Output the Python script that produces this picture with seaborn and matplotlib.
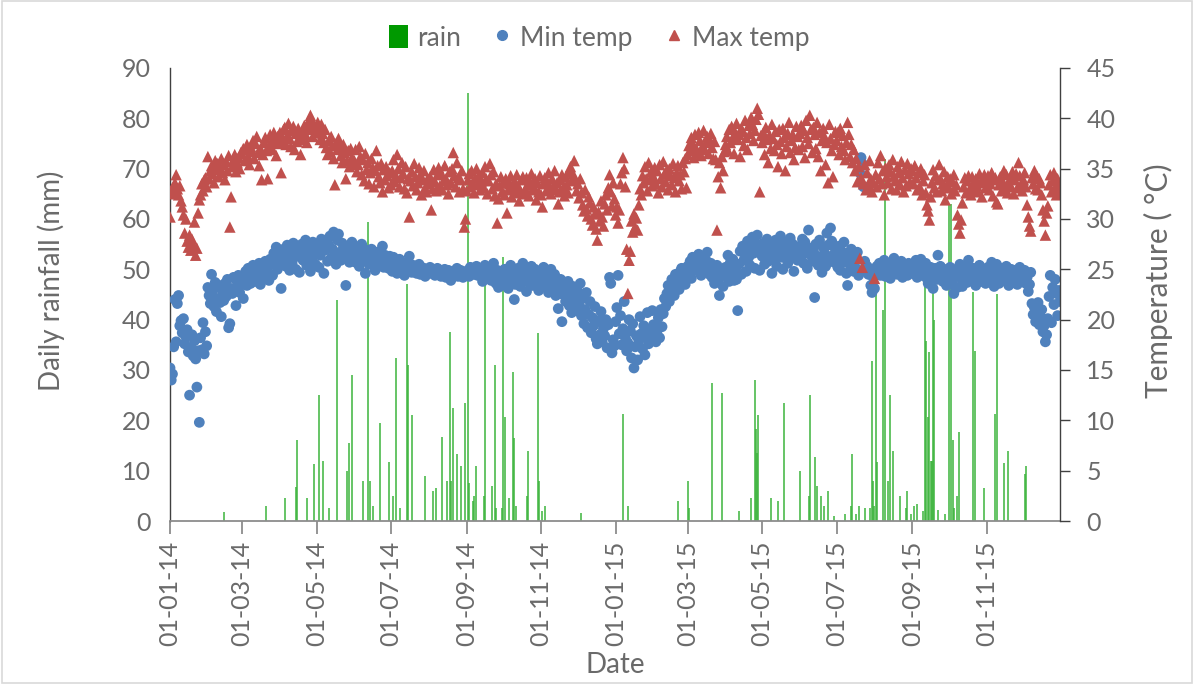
import numpy as np
import pandas as pd
import matplotlib
matplotlib.use("Agg")
import matplotlib.pyplot as plt
import matplotlib.dates as mdates
import seaborn as sns
from matplotlib.lines import Line2D
from matplotlib.patches import Patch, Rectangle

# ---------------- data ----------------
tmax_2014 = [
    30.2, 32.5, 33.1, 32.8, 33.6, 34.4, 33.0, 32.4, 33.3, 31.8,
    31.2, 30.4, 28.6, 30.0, 27.8, 27.2, 28.4, 26.9, 28.0, 27.4,
    29.7, 26.4, 27.1, 30.6, 31.9, 32.4, 33.5, 32.8, 33.9, 34.1, 33.2,
    36.2, 34.0, 34.8, 35.3, 34.5, 33.6, 35.8, 34.9, 35.5, 34.2,
    35.1, 36.0, 34.6, 35.4, 33.9, 35.7, 34.8, 36.3, 29.2, 32.2,
    35.2, 35.9, 36.4, 34.7, 35.6, 36.1, 35.0, 36.6,
    36.5, 37.0, 35.8, 36.9, 37.4, 36.2, 35.4, 37.2, 36.7, 37.8,
    36.0, 37.5, 38.2, 36.6, 35.3, 37.0, 33.9, 36.4, 37.6, 38.1,
    36.8, 34.0, 37.3, 38.4, 37.7, 36.9, 38.6, 37.9, 36.3, 38.2, 37.5,
    38.6, 34.6, 37.8, 38.9, 39.1, 37.4, 38.3, 39.5, 38.0, 37.2,
    38.8, 39.2, 36.9, 38.5, 37.7, 39.0, 38.1, 36.4, 37.9, 38.7,
    39.3, 38.4, 37.6, 39.6, 38.9, 40.3, 39.8, 38.2, 39.4, 38.6,
    39.2, 39.6, 38.8, 37.9, 39.4, 38.5, 37.6, 38.9, 37.1, 36.4,
    37.8, 36.7, 38.2, 37.3, 36.0, 33.4, 37.5, 36.9, 38.0, 37.2,
    36.3, 35.6, 37.4, 36.6, 34.0, 35.8, 36.8, 35.2, 37.0, 36.1, 35.5,
    35.8, 36.9, 34.7, 35.4, 37.2, 36.2, 34.4, 35.9, 33.8, 36.5,
    34.9, 35.6, 33.5, 34.6, 36.0, 35.1, 33.2, 34.8, 36.8, 35.3,
    34.2, 33.6, 35.5, 32.7, 34.9, 33.9, 35.2, 34.3, 33.1, 34.6,
    33.4, 34.8, 35.9, 33.7, 34.3, 36.4, 35.0, 33.2, 34.1, 35.6,
    34.5, 33.0, 35.2, 32.6, 34.0, 30.2, 33.8, 34.7, 33.3, 35.5,
    34.2, 32.9, 33.6, 35.1, 34.4, 32.4, 33.9, 34.8, 33.1, 32.7, 34.0,
    33.5, 34.2, 30.9, 33.0, 34.9, 33.7, 32.8, 34.4, 35.1, 33.3,
    34.6, 32.9, 33.8, 35.3, 34.0, 33.4, 32.5, 34.7, 33.6, 35.0,
    36.6, 34.3, 33.2, 35.6, 34.1, 32.7, 33.9, 34.8, 33.0, 29.2, 30.0,
    32.8, 33.9, 34.5, 33.2, 34.8, 33.6, 32.6, 34.1, 35.0, 33.4,
    34.3, 32.9, 33.7, 34.6, 33.1, 35.2, 34.0, 32.5, 33.8, 35.5,
    34.4, 33.0, 34.7, 32.3, 33.5, 29.6, 32.0, 33.3, 34.2, 32.7,
    33.6, 32.4, 34.0, 30.6, 32.9, 33.5, 34.3, 32.2, 33.1, 33.8,
    32.6, 34.4, 33.3, 31.8, 32.8, 33.9, 34.2, 32.5, 33.0, 34.1,
    33.4, 32.3, 33.7, 34.5, 32.9, 33.2, 34.0, 31.9, 33.6, 32.7, 34.3,
    32.4, 31.2, 33.5, 34.1, 32.8, 33.7, 34.6, 33.0, 32.5, 34.0,
    33.3, 34.8, 32.9, 33.6, 31.5, 32.7, 33.9, 34.4, 33.1, 32.3,
    34.2, 33.4, 32.6, 34.7, 35.2, 33.8, 34.5, 35.8, 33.9, 32.8,
    33.5, 32.1, 34.0, 32.6, 31.4, 30.8, 32.9, 31.0, 30.3, 32.2,
    31.6, 30.0, 29.4, 31.2, 30.5, 29.0, 27.9, 30.7, 29.8, 31.8,
    30.2, 29.3, 31.5, 32.4, 30.9, 33.1, 34.4, 32.7, 31.3, 33.6, 32.0,
]

tmax_2015 = [
    30.4, 31.2, 29.6, 30.9, 33.5, 34.6, 36.1, 35.0, 33.2, 27.0,
    22.6, 25.9, 26.8, 29.8, 28.7, 30.5, 29.2, 30.1, 28.9, 31.4,
    33.0, 32.4, 34.3, 33.6, 35.2, 34.0, 32.8, 35.6, 33.9, 34.7, 33.3,
    34.2, 35.1, 33.5, 34.8, 32.6, 35.4, 34.0, 33.2, 35.7, 34.5,
    33.7, 34.9, 32.9, 35.0, 34.3, 33.4, 35.5, 34.1, 32.7, 34.6,
    35.3, 33.8, 34.4, 33.0, 35.6, 34.7, 36.0, 33.1,
    36.4, 37.3, 36.8, 38.1, 37.5, 36.1, 38.4, 37.0, 36.6, 38.6,
    37.8, 36.3, 37.2, 38.8, 36.9, 37.6, 38.2, 36.5, 37.9, 38.5,
    37.1, 36.0, 37.7, 35.9, 28.9, 34.2, 35.6, 33.1, 36.2, 34.8, 36.7,
    37.4, 38.2, 36.8, 38.9, 37.6, 39.2, 38.0, 36.5, 38.6, 39.5,
    37.9, 38.4, 36.2, 39.0, 38.7, 37.3, 39.8, 38.1, 36.9, 39.3,
    38.5, 40.1, 39.4, 37.8, 38.8, 39.9, 41.0, 40.4, 32.7, 38.3,
    37.6, 38.6, 36.4, 39.1, 37.9, 35.6, 38.3, 37.0, 39.4, 38.0,
    36.8, 38.7, 37.4, 35.2, 38.9, 37.7, 36.5, 39.0, 38.1, 34.8,
    37.2, 38.5, 39.6, 36.6, 37.8, 38.4, 35.9, 37.1, 39.2, 38.2, 36.9,
    38.5, 39.3, 37.2, 38.8, 36.1, 39.8, 38.1, 37.5, 40.3, 38.9,
    36.6, 39.1, 38.4, 37.0, 39.6, 36.2, 38.6, 34.8, 37.8, 39.0,
    38.2, 35.4, 37.6, 33.6, 39.4, 38.0, 36.8, 34.2, 37.4, 38.7,
    37.8, 38.6, 36.4, 39.0, 37.2, 38.3, 36.8, 35.9, 37.6, 39.6,
    38.4, 36.2, 37.4, 35.6, 36.9, 34.8, 36.0, 33.7, 35.2, 26.1,
    34.1, 25.2, 33.5, 35.4, 32.9, 34.6, 33.2, 35.8, 34.0, 32.7, 33.6,
    24.1, 34.4, 33.2, 35.6, 34.0, 36.3, 33.5, 34.8, 32.4, 35.1,
    34.2, 33.6, 35.4, 34.7, 33.0, 35.9, 34.3, 33.8, 32.9, 35.2,
    34.6, 33.4, 35.7, 34.1, 32.7, 34.9, 33.3, 35.5, 34.5, 33.7, 35.0,
    34.8, 33.5, 35.3, 34.1, 32.9, 34.6, 33.2, 35.0, 32.4, 33.8,
    34.4, 32.6, 31.4, 30.8, 29.9, 32.2, 33.6, 34.9, 33.1, 34.3,
    32.7, 33.9, 35.4, 34.0, 32.8, 33.5, 34.7, 31.9, 33.3, 34.2,
    33.1, 34.0, 32.5, 33.7, 34.4, 32.8, 33.4, 30.4, 29.5, 28.6,
    29.9, 31.6, 33.2, 34.1, 32.6, 33.8, 34.3, 33.0, 32.4, 34.2,
    33.5, 32.9, 34.0, 33.3, 32.7, 34.5, 33.6, 32.2, 33.9, 34.4, 33.1,
    33.8, 34.3, 32.9, 33.5, 34.6, 32.3, 33.9, 34.1, 31.7, 31.5,
    33.4, 34.2, 32.8, 33.7, 34.8, 33.0, 34.4, 32.6, 33.6, 34.0,
    33.2, 34.7, 32.5, 33.9, 34.5, 33.1, 35.6, 34.3, 33.4, 32.8,
    33.9, 34.6, 33.2, 31.4, 30.2, 29.3, 28.8, 34.1, 33.5, 34.8,
    33.0, 34.3, 32.9, 34.0, 33.6, 32.4, 30.9, 29.8, 28.4, 30.6,
    31.3, 33.4, 34.4, 32.7, 33.8, 34.6, 33.1, 32.4, 34.0, 33.3, 32.6,
]

tmin_2014 = [
    15.2, 14.0, 14.6, 17.3, 22.0, 17.8, 21.6, 22.4, 19.4, 19.9,
    18.7, 20.1, 17.6, 18.3, 19.0, 16.8, 12.5, 17.2, 18.5, 16.4,
    17.9, 16.1, 13.3, 16.9, 9.8, 18.2, 17.0, 19.7, 16.6, 18.8, 17.4,
    23.2, 22.4, 21.6, 24.5, 22.9, 21.3, 23.7, 20.8, 22.1, 23.4,
    21.7, 20.3, 22.8, 21.9, 23.6, 22.3, 24.0, 19.2, 19.6, 23.1,
    22.6, 24.2, 23.0, 21.4, 23.8, 24.4, 22.7, 23.5,
    24.3, 22.1, 23.9, 24.8, 23.4, 25.1, 24.0, 23.6, 24.7, 25.4,
    24.5, 23.8, 25.0, 24.2, 25.6, 23.5, 24.9, 25.3, 24.1, 25.8,
    24.6, 25.2, 23.9, 26.0, 25.5, 24.4, 26.6, 25.7, 27.2, 25.0, 26.3,
    26.4, 23.1, 25.8, 27.0, 26.1, 25.3, 27.4, 26.6, 24.9, 26.9,
    25.6, 27.6, 26.2, 25.0, 27.1, 26.8, 24.7, 26.3, 27.5, 25.9,
    26.7, 27.9, 25.4, 26.5, 27.3, 24.8, 26.0, 27.7, 26.4, 25.5,
    26.8, 27.5, 25.2, 26.4, 28.0, 27.2, 24.6, 26.9, 27.8, 25.8,
    27.4, 28.3, 26.1, 27.0, 28.7, 26.5, 25.5, 27.9, 28.5, 26.7,
    25.9, 27.6, 26.3, 27.1, 23.4, 26.6, 27.3, 25.7, 26.9, 27.7, 26.2,
    26.4, 25.7, 27.2, 26.1, 25.3, 26.8, 27.5, 25.9, 26.3, 24.6,
    26.0, 26.9, 25.5, 26.6, 27.0, 25.8, 26.2, 24.9, 26.7, 25.4,
    26.5, 25.6, 26.1, 27.3, 25.2, 26.4, 25.7, 26.0, 25.1, 26.3,
    25.4, 24.8, 26.2, 25.1, 25.7, 24.6, 25.3, 26.0, 24.9, 25.5,
    25.0, 24.4, 25.6, 25.2, 24.8, 26.3, 25.1, 24.7, 25.4, 24.9,
    25.3, 24.6, 25.0, 25.5, 24.5, 25.2, 24.8, 25.1, 24.3, 25.0, 24.7,
    24.9, 25.2, 24.6, 24.8, 25.0, 24.4, 24.7, 25.1, 24.5, 24.9,
    24.3, 24.8, 24.6, 25.0, 24.2, 24.7, 24.9, 24.5, 23.9, 24.6,
    24.8, 24.4, 24.7, 25.1, 24.3, 24.6, 24.9, 24.5, 24.2, 24.7, 24.4,
    24.6, 24.9, 24.3, 25.2, 24.7, 25.0, 24.5, 24.8, 25.3, 24.4,
    24.9, 25.1, 24.6, 23.8, 24.7, 25.4, 24.2, 24.8, 25.0, 24.5,
    23.9, 24.6, 25.6, 24.3, 23.6, 24.9, 23.2, 24.1, 23.4, 24.0,
    24.5, 25.0, 23.6, 24.2, 23.1, 24.8, 25.4, 23.8, 24.6, 22.0,
    23.5, 24.4, 25.1, 24.0, 23.3, 24.7, 25.6, 23.9, 24.3, 22.8,
    24.9, 23.7, 24.5, 25.3, 23.4, 24.1, 25.0, 23.6, 24.4, 22.9, 24.2,
    24.6, 23.8, 25.2, 24.1, 23.4, 24.8, 22.7, 23.9, 25.0, 24.3,
    23.2, 24.5, 22.4, 23.6, 21.1, 22.9, 24.0, 19.8, 22.5, 23.7,
    21.8, 22.9, 23.8, 21.4, 22.6, 20.7, 23.3, 21.9, 22.3, 20.9,
    22.8, 21.5, 23.6, 20.4, 22.1, 19.6, 21.0, 22.7, 19.2, 20.5,
    21.8, 18.7, 20.2, 19.4, 21.3, 18.1, 17.6, 19.9, 18.5, 20.8,
    17.8, 19.1, 18.4, 20.0, 17.2, 19.5, 24.2, 23.6, 16.7, 18.0, 17.4,
]

tmin_2015 = [
    19.8, 21.2, 24.4, 18.6, 20.4, 17.5, 19.1, 21.8, 18.2, 16.9,
    17.7, 20.0, 18.9, 16.2, 19.6, 15.2, 17.3, 18.4, 16.0, 17.9,
    20.3, 18.6, 17.1, 19.4, 16.5, 18.2, 20.7, 17.6, 19.0, 18.3, 20.9,
    19.5, 18.4, 17.8, 18.9, 20.2, 18.2, 21.0, 19.3, 20.6, 22.1,
    21.3, 22.6, 23.4, 21.8, 22.9, 24.0, 23.1, 22.4, 24.5, 23.7,
    24.2, 23.0, 24.8, 25.1, 23.9, 24.6, 23.5, 24.9,
    25.3, 24.6, 25.8, 24.1, 26.2, 25.5, 24.9, 26.0, 25.4, 26.5,
    25.0, 24.4, 26.3, 25.7, 24.8, 25.9, 26.7, 25.2, 24.5, 25.6,
    24.2, 25.1, 23.6, 24.7, 25.4, 23.9, 22.4, 24.3, 25.0, 23.3, 24.6,
    25.2, 24.3, 26.4, 23.8, 25.7, 24.6, 26.0, 23.9, 25.1, 24.0,
    20.9, 25.5, 26.8, 24.5, 27.3, 25.9, 26.5, 24.8, 27.8, 26.2,
    25.4, 27.0, 28.2, 26.6, 25.1, 27.5, 28.4, 26.9, 24.9, 27.2,
    26.3, 27.6, 25.5, 26.9, 28.0, 25.8, 27.1, 26.4, 24.6, 27.4,
    26.0, 27.9, 25.3, 26.7, 27.3, 28.3, 26.2, 25.0, 27.7, 26.5,
    27.0, 25.6, 26.8, 28.1, 26.1, 27.5, 24.8, 26.6, 27.2, 25.9, 26.9,
    27.3, 26.2, 28.0, 25.6, 27.7, 26.8, 25.1, 28.9, 26.5, 27.1,
    25.8, 26.9, 22.2, 27.5, 26.3, 25.4, 27.9, 26.0, 24.7, 27.2,
    26.6, 25.3, 28.6, 27.4, 26.1, 29.1, 27.8, 26.4, 25.7, 27.0,
    26.4, 25.2, 27.3, 24.9, 26.8, 25.7, 27.7, 26.1, 24.6, 23.4,
    26.5, 25.4, 27.0, 25.9, 24.8, 26.3, 25.1, 26.7, 24.4, 34.6,
    36.1, 35.5, 33.2, 25.8, 24.9, 25.3, 24.5, 25.0, 23.4, 22.7, 24.2,
    23.1, 24.6, 25.3, 24.9, 25.6, 24.4, 25.1, 24.7, 25.9, 24.3,
    25.2, 24.8, 25.5, 24.1, 25.0, 24.6, 26.1, 24.9, 25.4, 24.5,
    25.1, 24.7, 25.8, 24.2, 25.3, 24.8, 25.0, 24.4, 25.6, 24.9, 25.2,
    24.8, 25.3, 24.5, 25.9, 24.2, 25.0, 24.7, 26.0, 24.4, 25.4,
    24.9, 25.6, 24.1, 23.6, 24.8, 25.2, 24.3, 23.1, 24.6, 25.1,
    24.0, 26.4, 24.7, 25.3, 24.4, 23.8, 25.0, 24.5, 23.4, 24.9,
    24.6, 25.2, 24.0, 23.5, 22.6, 24.3, 25.0, 23.2, 24.7, 25.5,
    24.1, 23.3, 24.8, 25.3, 24.4, 23.7, 25.9, 24.2, 23.9, 24.6,
    25.1, 24.0, 23.4, 24.8, 24.3, 25.4, 23.8, 24.5, 25.0, 24.2, 23.6,
    24.7, 25.2, 23.8, 24.4, 25.7, 24.0, 23.3, 24.9, 25.5, 24.2,
    23.6, 24.8, 25.1, 24.3, 23.9, 24.6, 25.3, 24.1, 23.4, 24.7,
    25.0, 24.5, 23.7, 24.9, 24.2, 23.5, 24.6, 25.2, 24.0, 23.8,
    24.4, 24.9, 23.6, 24.2, 22.8, 23.5, 24.7, 21.6, 20.5, 21.2,
    19.8, 20.9, 21.7, 19.5, 20.3, 21.0, 18.8, 19.4, 17.8, 18.5,
    20.1, 22.3, 24.4, 19.7, 23.2, 21.5, 24.0, 22.6, 20.4, 22.9, 21.8,
]

# rain events: day offset from 01-01-2014 and daily rainfall (mm)
rain_day = [44, 79, 94, 103, 104, 112, 118, 122, 125, 130,
            137, 145, 147, 149, 158, 162, 164, 166, 172, 179,
            183, 185, 188, 194, 195, 198, 209, 215, 218, 223,
            227, 229, 230, 232, 235, 238, 242, 244, 245, 248,
            249, 251, 257, 258, 264, 266, 267, 272, 273, 274,
            278, 281, 282, 283, 292, 293, 301, 302, 305, 307,
            337, 371, 375, 416, 424, 425, 444, 452, 466, 476,
            479, 480, 481, 482, 492, 498, 503, 516, 523, 524,
            528, 530, 533, 536, 539, 544, 553, 558, 559, 562,
            564, 569, 573, 575, 576, 577, 578, 579, 584, 586,
            588, 590, 592, 598, 603, 604, 607, 609, 612, 617,
            618, 619, 621, 622, 623, 624, 625, 626, 629, 635,
            638, 640, 641, 642, 645, 646, 658, 659, 667, 676,
            677, 683, 686, 700, 701]
rain_mm = [1.8, 3, 4.6, 6.7, 16, 4.5, 11.3, 25, 12, 2.5,
           44, 10, 15.5, 29, 8, 59.5, 8, 3, 19.5, 11.7,
           5, 32.4, 2.5, 47, 31, 21, 9, 6, 6.5, 16.7,
           8, 37.6, 8, 22.5, 13.3, 11, 23.5, 85, 7.5, 4,
           5, 11, 5, 48, 7, 31, 2.5, 2.5, 52.5, 20.7,
           4.5, 29.6, 16.5, 3, 5, 14, 37.3, 8, 2, 3,
           1.5, 21.3, 3, 4, 8, 2.5, 27.4, 25.4, 2, 4.5,
           28, 18.3, 13.5, 21, 4.5, 4, 23.5, 10, 5, 25,
           12.7, 7, 5, 3, 6, 1, 1.3, 3, 13.3, 1.3,
           3, 2.5, 2.5, 31.8, 8, 3, 45, 11.7, 42, 72,
           8, 25, 14, 5, 2.5, 6, 1.3, 3, 3.3, 2,
           47, 35.8, 20.7, 33.6, 12, 12, 45.5, 40, 2.2, 1.3,
           63, 63, 16, 2.5, 5, 17.7, 45.5, 33.8, 6.5, 21.3,
           45, 11.5, 14, 9.3, 11]

legend_labels = ["rain", "Min temp", "Max temp"]
left_label = "Daily rainfall (mm)"
right_label = "Temperature ( °C)"
x_label = "Date"

assert len(tmax_2014) == 365 and len(tmin_2014) == 365, (len(tmax_2014), len(tmin_2014))
assert len(tmax_2015) == 365 and len(tmin_2015) == 365, (len(tmax_2015), len(tmin_2015))
assert len(rain_day) == len(rain_mm)

# ---------------- frames ----------------
start = pd.Timestamp("2014-01-01")
dates = pd.date_range(start, periods=730, freq="D")
temps = pd.DataFrame({"date": dates,
                      "tmin": tmin_2014 + tmin_2015,
                      "tmax": tmax_2014 + tmax_2015})
rain = pd.DataFrame({"date": start + pd.to_timedelta(rain_day, unit="D"),
                     "mm": rain_mm})

# ---------------- style ----------------
sns.set_theme(style="white")
plt.rcParams["font.family"] = ["Lato", "DejaVu Sans"]
TXT = "#6a6a6a"

fig = plt.figure(figsize=(11.94, 6.84), dpi=100)
ax = fig.add_axes([0.1424, 0.2383, 0.7454, 0.6623])

ax.vlines(rain["date"], 0, rain["mm"], colors="#3cb43c", linewidth=1.1, zorder=2)

ax2 = ax.twinx()
sns.scatterplot(data=temps, x="date", y="tmin", ax=ax2, marker="o",
                color="#4f81bd", s=60, edgecolor="none", linewidth=0, legend=False)
sns.scatterplot(data=temps, x="date", y="tmax", ax=ax2, marker="^",
                color="#c0504d", s=68, edgecolor="none", linewidth=0, legend=False)

ax.set_ylim(0, 90)
ax2.set_ylim(0, 45)
ax.set_yticks(np.arange(0, 91, 10))
ax2.set_yticks(np.arange(0, 46, 5))
ax.set_xlim(pd.Timestamp("2014-01-01"), pd.Timestamp("2015-12-31"))
ax.xaxis.set_major_locator(mdates.MonthLocator(bymonth=[1, 3, 5, 7, 9, 11]))
ax.xaxis.set_major_formatter(mdates.DateFormatter("%d-%m-%y"))

for a in (ax, ax2):
    a.grid(False)
    a.spines["top"].set_visible(False)
ax.spines["right"].set_visible(False)
ax2.spines["left"].set_visible(False)
ax2.spines["bottom"].set_visible(False)
ax.spines["left"].set_color("#404040")
ax.spines["left"].set_linewidth(1.0)
ax.spines["bottom"].set_color("#8c8c8c")
ax.spines["bottom"].set_linewidth(1.3)
ax2.spines["right"].set_color("#404040")
ax2.spines["right"].set_linewidth(1.0)

ax.tick_params(axis="y", left=True, length=0, pad=14, labelsize=18, labelcolor=TXT)
ax.tick_params(axis="x", bottom=True, direction="out", length=9, width=1.3,
               color="#8c8c8c", pad=5, labelsize=18, labelcolor=TXT, labelrotation=90)
ax2.tick_params(axis="y", right=True, direction="out", length=7, width=1.0,
                color="#404040", pad=12, labelsize=18, labelcolor=TXT)

ax.set_ylabel(left_label, fontsize=20, color=TXT)
ax2.set_ylabel(right_label, fontsize=21.5, color=TXT)
ax.set_xlabel(x_label, fontsize=20, color=TXT)
ax2.set_xlabel("")
ax.yaxis.set_label_coords(-0.118, 0.53)
ax2.yaxis.set_label_coords(1.094, 0.53)
ax.xaxis.set_label_coords(0.5, -0.29)

handles = [Patch(facecolor="#009900", edgecolor="none"),
           Line2D([], [], marker="o", linestyle="none", color="#4f81bd", markersize=7),
           Line2D([], [], marker="^", linestyle="none", color="#c0504d", markersize=7)]
leg = fig.legend(handles, legend_labels, loc="center", bbox_to_anchor=(0.502, 0.945),
                 ncol=3, frameon=False, fontsize=19, handlelength=0.7, handleheight=1.0,
                 handletextpad=0.35, columnspacing=1.2)
for t in leg.get_texts():
    t.set_color(TXT)

fig.patches.append(Rectangle((0.002, 0.002), 0.996, 0.996, transform=fig.transFigure,
                             fill=False, edgecolor="#d9d9d9", linewidth=1.2))

fig.savefig("out.png", dpi=100)
